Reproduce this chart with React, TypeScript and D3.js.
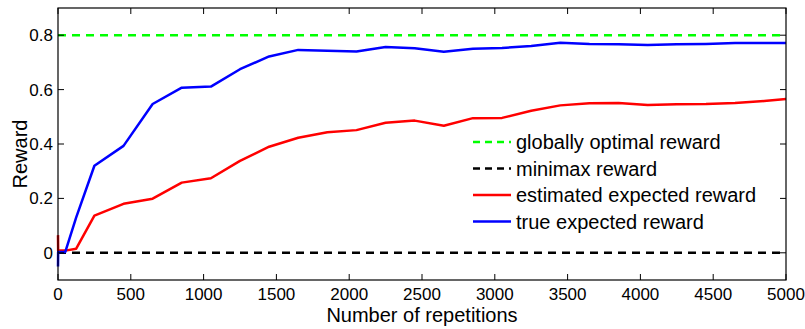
import React, { useRef, useEffect } from "react";
import * as d3 from "d3";

// number of repetitions at which each curve was sampled
const repetitions = [0, 1, 50, 125, 250, 450, 650, 850, 1050, 1250, 1450, 1650, 1850, 2050, 2250, 2450, 2650, 2850, 3050, 3250, 3450, 3650, 3850, 4050, 4250, 4450, 4650, 4850, 5000];

const trueReward = [-0.05, 0.003, 0.003, 0.13, 0.32, 0.393, 0.547, 0.607, 0.611, 0.675, 0.722, 0.746, 0.743, 0.74, 0.757, 0.752, 0.739, 0.75, 0.753, 0.76, 0.772, 0.768, 0.767, 0.764, 0.767, 0.768, 0.771, 0.771, 0.771];

const estimatedReward = [0.065, 0.008, 0.008, 0.015, 0.137, 0.18, 0.199, 0.258, 0.274, 0.338, 0.39, 0.423, 0.443, 0.451, 0.478, 0.486, 0.467, 0.495, 0.496, 0.522, 0.542, 0.55, 0.551, 0.543, 0.546, 0.547, 0.551, 0.558, 0.565];

const optimalReward = 0.8;
const minimaxReward = 0;

const xTicks = [0, 500, 1000, 1500, 2000, 2500, 3000, 3500, 4000, 4500, 5000];
const yTicks = [0, 0.2, 0.4, 0.6, 0.8];

const legendLabels = ["globally optimal reward", "minimax reward", "estimated expected reward", "true expected reward"];

const FONT = "'Liberation Sans', Arial, Helvetica, sans-serif";

const RewardChart = () => {
  const svgRef = useRef<SVGSVGElement>(null);

  useEffect(() => {
    const width = 805, height = 329;
    const margin = { top: 8, right: 19, bottom: 49, left: 58 };

    const svg = d3.select(svgRef.current)
      .attr("width", width)
      .attr("height", height)
      .style("background", "#fff");

    svg.selectAll("*").remove();

    const x = d3.scaleLinear()
      .domain([0, 5000])
      .range([margin.left, width - margin.right]);

    const y = d3.scaleLinear()
      .domain([-0.1, 0.9])
      .range([height - margin.bottom, margin.top]);

    const x0 = margin.left, x1 = width - margin.right;
    const y0 = height - margin.bottom, y1 = margin.top;

    // reference levels
    svg.append("line")
      .attr("x1", x0).attr("x2", x1)
      .attr("y1", y(optimalReward)).attr("y2", y(optimalReward))
      .attr("stroke", "#00ff00")
      .attr("stroke-width", 2.5)
      .attr("stroke-dasharray", "8,6");

    svg.append("line")
      .attr("x1", x0).attr("x2", x1)
      .attr("y1", y(minimaxReward)).attr("y2", y(minimaxReward))
      .attr("stroke", "#000")
      .attr("stroke-width", 2.5)
      .attr("stroke-dasharray", "8,6");

    const line = d3.line<number>()
      .x((_, i) => x(repetitions[i]))
      .y(d => y(d));

    svg.append("path")
      .datum(estimatedReward)
      .attr("d", line)
      .attr("fill", "none")
      .attr("stroke", "#ff0000")
      .attr("stroke-width", 2.5)
      .attr("stroke-linejoin", "round");

    svg.append("path")
      .datum(trueReward)
      .attr("d", line)
      .attr("fill", "none")
      .attr("stroke", "#0000ff")
      .attr("stroke-width", 2.5)
      .attr("stroke-linejoin", "round");

    // frame with inward ticks on all four sides
    svg.append("rect")
      .attr("x", x0).attr("y", y1)
      .attr("width", x1 - x0).attr("height", y0 - y1)
      .attr("fill", "none")
      .attr("stroke", "#000")
      .attr("stroke-width", 1.2);

    const tickLen = 6;
    xTicks.forEach(t => {
      svg.append("line")
        .attr("x1", x(t)).attr("x2", x(t))
        .attr("y1", y0).attr("y2", y0 - tickLen)
        .attr("stroke", "#000");
      svg.append("line")
        .attr("x1", x(t)).attr("x2", x(t))
        .attr("y1", y1).attr("y2", y1 + tickLen)
        .attr("stroke", "#000");
      svg.append("text")
        .attr("x", x(t))
        .attr("y", y0 + 20)
        .attr("text-anchor", "middle")
        .style("font-family", FONT)
        .style("font-size", "17px")
        .text(t);
    });

    yTicks.forEach(t => {
      svg.append("line")
        .attr("x1", x0).attr("x2", x0 + tickLen)
        .attr("y1", y(t)).attr("y2", y(t))
        .attr("stroke", "#000");
      svg.append("line")
        .attr("x1", x1).attr("x2", x1 - tickLen)
        .attr("y1", y(t)).attr("y2", y(t))
        .attr("stroke", "#000");
      svg.append("text")
        .attr("x", x0 - 5)
        .attr("y", y(t) + 6)
        .attr("text-anchor", "end")
        .style("font-family", FONT)
        .style("font-size", "17px")
        .text(t === 0 ? "0" : t.toFixed(1));
    });

    // axis labels
    svg.append("text")
      .attr("x", (x0 + x1) / 2)
      .attr("y", 322)
      .attr("text-anchor", "middle")
      .style("font-family", FONT)
      .style("font-size", "20px")
      .text("Number of repetitions");

    svg.append("text")
      .attr("transform", `translate(27,${(y0 + y1) / 2 + 10}) rotate(-90)`)
      .attr("text-anchor", "middle")
      .style("font-family", FONT)
      .style("font-size", "20px")
      .text("Reward");

    // Legend
    const legendStyles = [
      { color: "#00ff00", dash: "7,5" },
      { color: "#000", dash: "7,5" },
      { color: "#ff0000", dash: null },
      { color: "#0000ff", dash: null },
    ];
    const legend = svg.append("g").attr("transform", "translate(473,142)");
    legendLabels.forEach((label, i) => {
      const row = legend.append("g").attr("transform", `translate(0,${i * 26.5})`);
      row.append("line")
        .attr("x1", 0).attr("x2", 38)
        .attr("y1", 0).attr("y2", 0)
        .attr("stroke", legendStyles[i].color)
        .attr("stroke-width", 2.5)
        .attr("stroke-dasharray", legendStyles[i].dash);
      row.append("text")
        .attr("x", 43)
        .attr("y", 7)
        .style("font-family", FONT)
        .style("font-size", "20px")
        .text(label);
    });
  }, []);

  return (
    <svg ref={svgRef} style={{ position: "fixed", left: 0, top: 0 }}></svg>
  );
};

export default function App() {
  return <RewardChart />;
}
